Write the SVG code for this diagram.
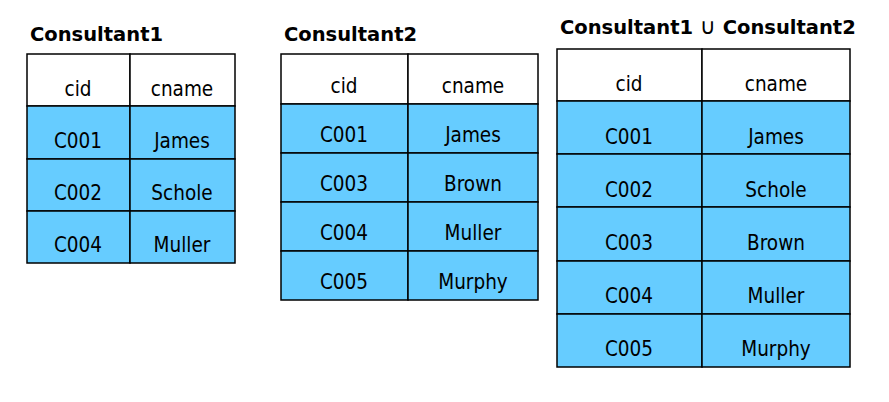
<svg xmlns="http://www.w3.org/2000/svg" width="889" height="402" viewBox="0 0 889 402">
<style>
.title{font-family:"DejaVu Sans",Verdana,sans-serif;font-weight:bold;font-size:19.5px;fill:#000}
.cell{font-family:"DejaVu Sans Condensed","DejaVu Sans",sans-serif;font-size:20.5px;fill:#000;text-anchor:middle}
.hdr{fill:#ffffff;stroke:#000;stroke-width:1.5}
.row{fill:#66ccff;stroke:#000;stroke-width:1.5}
</style>
<rect width="889" height="402" fill="#fff"/>
<g id="consultant1">
<text class="title" x="30" y="41">Consultant1</text>
<rect class="hdr" x="27" y="54" width="103" height="52"/><rect class="hdr" x="130" y="54" width="105" height="52"/>
<rect class="row" x="27" y="106" width="103" height="53"/><rect class="row" x="130" y="106" width="105" height="53"/>
<rect class="row" x="27" y="159" width="103" height="52"/><rect class="row" x="130" y="159" width="105" height="52"/>
<rect class="row" x="27" y="211" width="103" height="52"/><rect class="row" x="130" y="211" width="105" height="52"/>
<text class="cell" x="78" y="96">cid</text><text class="cell" x="182" y="96">cname</text>
<text class="cell" x="78" y="148">C001</text><text class="cell" x="182" y="148">James</text>
<text class="cell" x="78" y="200">C002</text><text class="cell" x="182" y="200">Schole</text>
<text class="cell" x="78" y="252">C004</text><text class="cell" x="182" y="252">Muller</text>
</g>
<g id="consultant2">
<text class="title" x="284" y="41">Consultant2</text>
<rect class="hdr" x="281" y="54" width="127" height="50"/><rect class="hdr" x="408" y="54" width="130" height="50"/>
<rect class="row" x="281" y="104" width="127" height="49"/><rect class="row" x="408" y="104" width="130" height="49"/>
<rect class="row" x="281" y="153" width="127" height="49"/><rect class="row" x="408" y="153" width="130" height="49"/>
<rect class="row" x="281" y="202" width="127" height="49"/><rect class="row" x="408" y="202" width="130" height="49"/>
<rect class="row" x="281" y="251" width="127" height="49"/><rect class="row" x="408" y="251" width="130" height="49"/>
<text class="cell" x="344" y="93">cid</text><text class="cell" x="473" y="93">cname</text>
<text class="cell" x="344" y="142">C001</text><text class="cell" x="473" y="142">James</text>
<text class="cell" x="344" y="191">C003</text><text class="cell" x="473" y="191">Brown</text>
<text class="cell" x="344" y="240">C004</text><text class="cell" x="473" y="240">Muller</text>
<text class="cell" x="344" y="289">C005</text><text class="cell" x="473" y="289">Murphy</text>
</g>
<g id="union">
<text class="title" x="560" y="34">Consultant1 <tspan font-weight="normal" font-size="22px">∪</tspan> Consultant2</text>
<rect class="hdr" x="557" y="49" width="145" height="52"/><rect class="hdr" x="702" y="49" width="148" height="52"/>
<rect class="row" x="557" y="101" width="145" height="53"/><rect class="row" x="702" y="101" width="148" height="53"/>
<rect class="row" x="557" y="154" width="145" height="53"/><rect class="row" x="702" y="154" width="148" height="53"/>
<rect class="row" x="557" y="207" width="145" height="54"/><rect class="row" x="702" y="207" width="148" height="54"/>
<rect class="row" x="557" y="261" width="145" height="53"/><rect class="row" x="702" y="261" width="148" height="53"/>
<rect class="row" x="557" y="314" width="145" height="53"/><rect class="row" x="702" y="314" width="148" height="53"/>
<text class="cell" x="629" y="91">cid</text><text class="cell" x="776" y="91">cname</text>
<text class="cell" x="629" y="144">C001</text><text class="cell" x="776" y="144">James</text>
<text class="cell" x="629" y="197">C002</text><text class="cell" x="776" y="197">Schole</text>
<text class="cell" x="629" y="250">C003</text><text class="cell" x="776" y="250">Brown</text>
<text class="cell" x="629" y="303">C004</text><text class="cell" x="776" y="303">Muller</text>
<text class="cell" x="629" y="356">C005</text><text class="cell" x="776" y="356">Murphy</text>
</g>
</svg>
